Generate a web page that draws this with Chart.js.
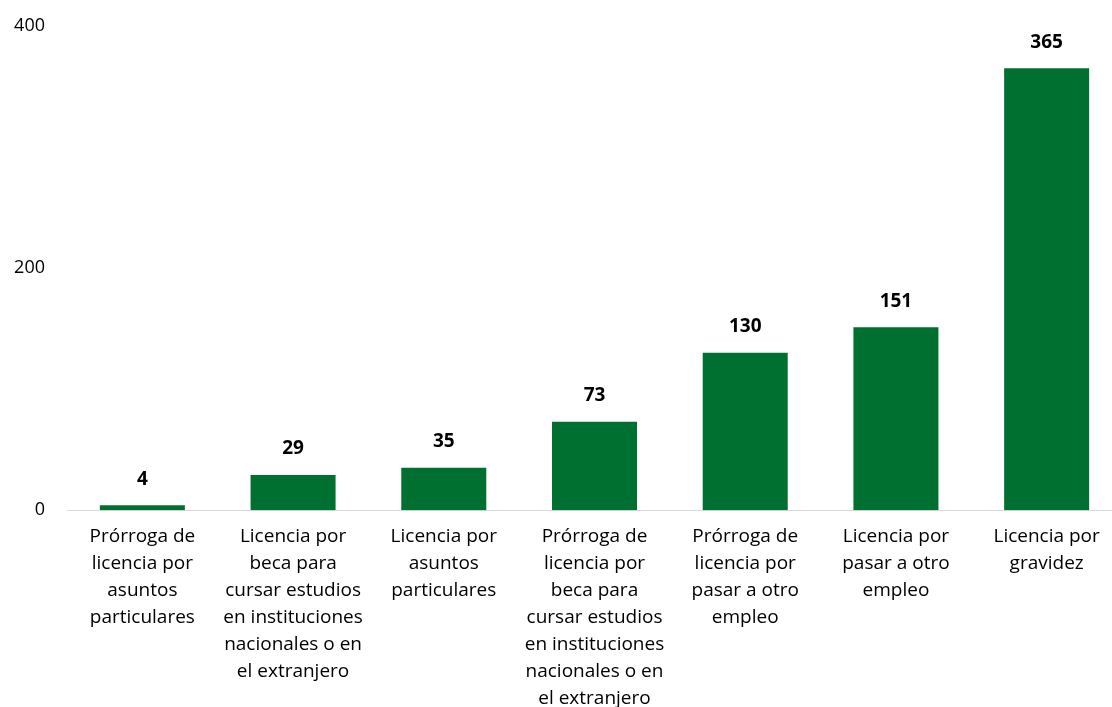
<!DOCTYPE html>
<html>
<head>
<meta charset="utf-8">
<script src="https://cdn.jsdelivr.net/npm/chart.js@4"></script>
<style>
  html, body { margin: 0; padding: 0; background: #fff; overflow: hidden; }
  #wrap { width: 1122px; height: 724px; margin-top: -7px; }
</style>
</head>
<body>
<div id="wrap"><canvas id="chartLicencias"></canvas></div>
<script>
var categorias = [
    ['Prórroga de', 'licencia por', 'asuntos', 'particulares'],
    ['Licencia por', 'beca para', 'cursar estudios', 'en instituciones', 'nacionales o en', 'el extranjero'],
    ['Licencia por', 'asuntos', 'particulares'],
    ['Prórroga de', 'licencia por', 'beca para', 'cursar estudios', 'en instituciones', 'nacionales o en', 'el extranjero'],
    ['Prórroga de', 'licencia por', 'pasar a otro', 'empleo'],
    ['Licencia por', 'pasar a otro', 'empleo'],
    ['Licencia por', 'gravidez']
];
var valores = [4, 29, 35, 73, 130, 151, 365];
var ticksY = [0, 200, 400];

var fuente = "'Open Sans', 'Noto Sans', sans-serif";

// etiquetas encima de las barras
var etiquetasBarras = {
    id: 'etiquetasBarras',
    afterDatasetsDraw: function (chart) {
        var ctx = chart.ctx;
        var meta = chart.getDatasetMeta(0);
        ctx.save();
        ctx.font = 'bold 19px ' + fuente;
        ctx.fillStyle = '#000';
        ctx.textAlign = 'center';
        ctx.textBaseline = 'middle';
        meta.data.forEach(function (bar, i) {
            ctx.fillText(valores[i], bar.x, bar.y - 26);
        });
        ctx.restore();
    }
};

var ctx = document.getElementById('chartLicencias').getContext('2d');
var chart = new Chart(ctx, {
    type: 'bar',
    data: {
        labels: categorias,
        datasets: [{
            data: valores,
            backgroundColor: '#007030',
            categoryPercentage: 1,
            barPercentage: 0.564
        }]
    },
    options: {
        responsive: true,
        maintainAspectRatio: false,
        animation: false,
        layout: { padding: 0 },
        plugins: {
            legend: { display: false },
            tooltip: { enabled: false }
        },
        scales: {
            x: {
                grid: { display: false },
                border: { display: true, color: '#d9d9d9', width: 1 },
                ticks: {
                    color: '#000',
                    font: { family: fuente, size: 19, lineHeight: 1.42 },
                    padding: 5,
                    maxRotation: 0,
                    autoSkip: false
                }
            },
            y: {
                min: 0,
                max: 400,
                afterBuildTicks: function (scale) {
                    scale.ticks = ticksY.map(function (v) { return { value: v }; });
                },
                afterFit: function (scale) { scale.width = 67; },
                grid: { display: false, drawTicks: false },
                border: { display: false },
                ticks: {
                    color: '#000',
                    font: { family: fuente, size: 18 },
                    padding: 22
                }
            }
        }
    },
    plugins: [etiquetasBarras]
});
</script>
</body>
</html>
